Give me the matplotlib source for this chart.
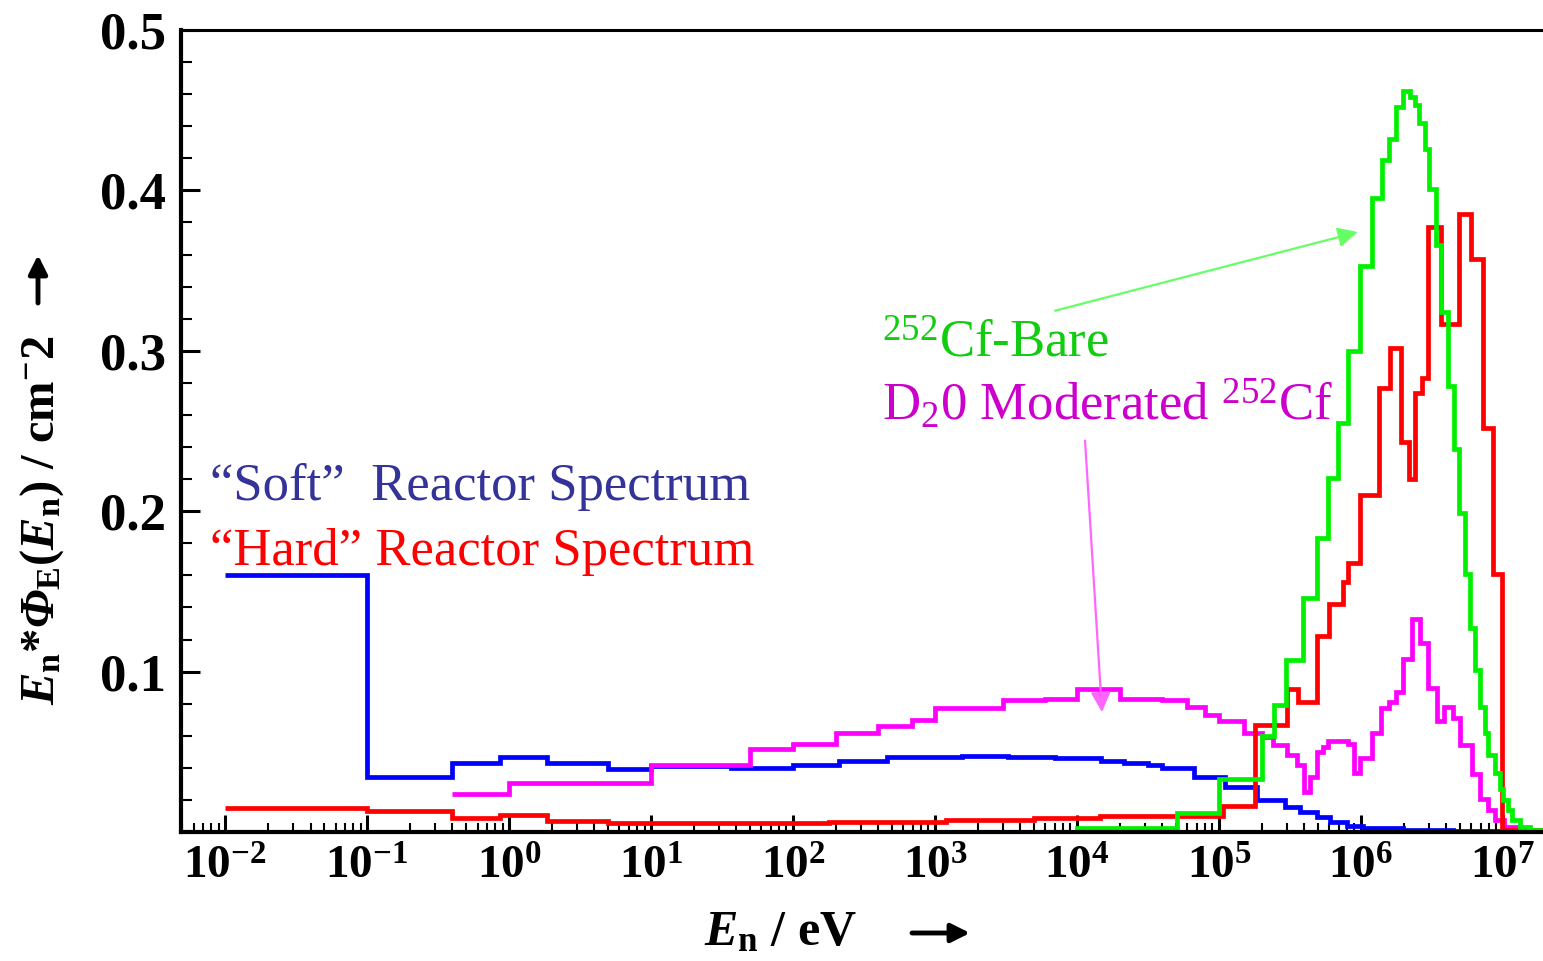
import numpy as np
import matplotlib
matplotlib.use('Agg')
import matplotlib.pyplot as plt
from matplotlib.ticker import FixedLocator, LogLocator, MultipleLocator, NullFormatter

plt.rcParams['font.family'] = ['Liberation Serif', 'DejaVu Serif']
plt.rcParams['mathtext.fontset'] = 'custom'
plt.rcParams['mathtext.rm'] = 'Liberation Serif'
plt.rcParams['mathtext.it'] = 'Liberation Serif:italic:bold'
plt.rcParams['mathtext.bf'] = 'Liberation Serif:bold'
plt.rcParams['mathtext.cal'] = 'Liberation Serif:italic:bold'  # for the italic Phi

# --- data: bin edges (eV) and E*phi(E) per bin ---
soft_edges = [1e-2, 0.1, 0.4, 0.87, 1.86, 5.0, 10, 36.5, 100, 211, 459, 1.55e3, 3.27e3,
              7.0e3, 1.48e4, 2.14e4, 3.16e4, 3.97e4, 6.67e4, 1.10e5, 1.85e5, 2.92e5,
              3.72e5, 4.90e5, 6.05e5, 7.97e5, 1.03e6, 1.98e6, 4.45e6, 9.5e6]
soft_vals = [0.160, 0.034, 0.043, 0.047, 0.043, 0.039, 0.041, 0.040, 0.042, 0.044,
             0.047, 0.0474, 0.047, 0.046, 0.044, 0.043, 0.042, 0.040, 0.034, 0.028,
             0.020, 0.0156, 0.0125, 0.0094, 0.0062, 0.0037, 0.0025, 0.0012, 0.0006]

hard_edges = [1e-2, 0.1, 0.4, 0.87, 1.86, 5.0, 180, 1.2e3, 5.0e3, 1.45e4, 1.07e5, 1.79e5,
              3.01e5, 3.60e5, 4.90e5, 5.96e5, 7.47e5, 8.10e5, 9.84e5, 1.34e6, 1.60e6,
              1.91e6, 2.18e6, 2.40e6, 2.69e6, 2.97e6, 3.66e6, 4.90e6, 5.95e6, 7.23e6,
              8.51e6, 9.85e6, 1.9e7]
hard_vals = [0.015, 0.013, 0.0087, 0.0106, 0.0069, 0.0056, 0.0062, 0.0075, 0.0087, 0.0100,
             0.016, 0.067, 0.089, 0.081, 0.122, 0.142, 0.156, 0.168, 0.210, 0.277, 0.302,
             0.243, 0.220, 0.274, 0.283, 0.377, 0.317, 0.385, 0.357, 0.252, 0.161, 0.001]

d2o_edges = [0.4, 1.0, 10, 50, 100, 200, 400, 690, 1e3, 3e3, 6e3, 1e4, 2e4, 4e4, 6e4, 8e4,
             1e5, 1.5e5, 2e5, 2.4e5, 3e5, 3.54e5, 3.97e5, 4.38e5, 4.9e5, 5.4e5, 5.86e5,
             8.1e5, 8.9e5, 9.8e5, 1.2e6, 1.38e6, 1.57e6, 1.76e6, 1.98e6, 2.29e6, 2.6e6,
             2.96e6, 3.43e6, 3.85e6, 4.45e6, 4.98e6, 6.05e6, 6.9e6, 7.84e6, 8.8e6,
             1.02e7, 1.26e7, 1.9e7]
d2o_vals = [0.024, 0.0305, 0.042, 0.052, 0.055, 0.062, 0.066, 0.070, 0.077, 0.082, 0.083,
            0.089, 0.083, 0.082, 0.078, 0.073, 0.069, 0.062, 0.059, 0.054, 0.048, 0.042,
            0.025, 0.034, 0.050, 0.053, 0.057, 0.055, 0.037, 0.046, 0.062, 0.077, 0.081,
            0.087, 0.108, 0.133, 0.118, 0.090, 0.069, 0.078, 0.071, 0.054, 0.036, 0.0205,
            0.0137, 0.0075, 0.003, 0.001]

bare_edges = [0.4, 1e4, 5.06e4, 1e5, 2.0e5, 2.44e5, 2.97e5, 3.91e5, 4.9e5, 5.86e5, 6.89e5,
              8.1e5, 9.84e5, 1.19e6, 1.41e6, 1.57e6, 1.76e6, 1.98e6, 2.21e6, 2.40e6,
              2.56e6, 2.82e6, 3.01e6, 3.38e6, 3.66e6, 4.1e6, 4.52e6, 4.9e6, 5.4e6,
              5.86e6, 6.35e6, 6.9e6, 7.47e6, 7.84e6, 8.8e6, 9.5e6, 1.0e7, 1.08e7,
              1.16e7, 1.32e7, 1.55e7, 1.91e7]
bare_vals = [0, 0.0025, 0.012, 0.033, 0.060, 0.079, 0.107, 0.146, 0.183, 0.221, 0.255,
             0.300, 0.353, 0.395, 0.419, 0.432, 0.452, 0.462, 0.458, 0.453, 0.442, 0.426,
             0.401, 0.366, 0.324, 0.278, 0.239, 0.199, 0.161, 0.127, 0.101, 0.078, 0.062,
             0.048, 0.037, 0.027, 0.020, 0.014, 0.0075, 0.003, 0.001]

xtick_vals = [1e-2, 1e-1, 1e0, 1e1, 1e2, 1e3, 1e4, 1e5, 1e6, 1e7]
xtick_labels = [r'$\mathbf{10^{-2}}$', r'$\mathbf{10^{-1}}$', r'$\mathbf{10^{0}}$',
                r'$\mathbf{10^{1}}$', r'$\mathbf{10^{2}}$', r'$\mathbf{10^{3}}$',
                r'$\mathbf{10^{4}}$', r'$\mathbf{10^{5}}$', r'$\mathbf{10^{6}}$',
                r'$\mathbf{10^{7}}$']
ytick_vals = [0.1, 0.2, 0.3, 0.4, 0.5]
ytick_labels = ['0.1', '0.2', '0.3', '0.4', '0.5']

W, H = 1543, 961
fig = plt.figure(figsize=(W / 100, H / 100), dpi=100)
ax = fig.add_axes([181 / W, 129 / H, 1 - 181 / W, (832 - 30) / H])

lw = 3.4
step_kw = dict(baseline=None, linewidth=lw, joinstyle='miter', capstyle='butt')
ax.stairs(soft_vals, soft_edges, color='#0000ff', zorder=2, **step_kw)
ax.stairs(d2o_vals, d2o_edges, color='#ff00ff', zorder=2.1, **step_kw)
ax.stairs(hard_vals, hard_edges, color='#ff0000', zorder=2.2, **step_kw)
ax.stairs(bare_vals, bare_edges, color='#00f000', zorder=2.3, **step_kw)

ax.set_xscale('log')
ax.set_xlim(10 ** -2.31, 10 ** 7.282)
ax.set_ylim(0, 0.5)

ax.xaxis.set_major_locator(FixedLocator(xtick_vals))
ax.set_xticklabels(xtick_labels, fontsize=34)
ax.xaxis.set_minor_locator(LogLocator(base=10, subs=np.arange(2, 10), numticks=30))
ax.xaxis.set_minor_formatter(NullFormatter())
ax.set_yticks(ytick_vals)
ax.set_yticklabels(ytick_labels, fontsize=38, fontweight='bold')
ax.yaxis.set_minor_locator(MultipleLocator(0.02))

ax.tick_params(axis='x', which='major', direction='in', length=12, width=2.2, pad=10)
ax.tick_params(axis='x', which='minor', direction='in', length=6.5, width=1.5)
ax.tick_params(axis='y', which='major', direction='in', length=14, width=2.2, pad=11)
ax.tick_params(axis='y', which='minor', direction='in', length=8, width=1.5)

for s in ['left', 'bottom']:
    ax.spines[s].set_linewidth(3)
ax.spines['top'].set_linewidth(2.2)
ax.spines['right'].set_visible(False)

# axis labels
fig.text(42 / W, 1 - 520 / H,
         r'$E_\mathbf{n}$*$\mathcal{\Phi}_\mathbf{E}$($E_\mathbf{n}$) / cm$^\mathbf{-}$2',
         rotation=90, ha='center', va='center', fontsize=35, fontweight='bold')
fig.text(780 / W, 1 - 945 / H, r'$E_\mathbf{n}$ / eV', ha='center', va='baseline',
         fontsize=36, fontweight='bold')
arrow_kw = dict(arrowstyle='-|>', color='black', lw=3.5, mutation_scale=28,
                shrinkA=0, shrinkB=0)
fig.add_artist(matplotlib.patches.FancyArrowPatch((912 / W, 1 - 933 / H), (970 / W, 1 - 933 / H),
               transform=fig.transFigure, **arrow_kw))
fig.add_artist(matplotlib.patches.FancyArrowPatch((38 / W, 1 - 303 / H), (38 / W, 1 - 255 / H),
               transform=fig.transFigure, **arrow_kw))

# series captions
fig.text(210 / W, 1 - 500 / H, '\u201cSoft\u201d  Reactor Spectrum', fontsize=38,
         color='#333399', va='baseline')
fig.text(210 / W, 1 - 565 / H, '\u201cHard\u201d Reactor Spectrum', fontsize=38,
         color='#ff0000', va='baseline')
fig.text(882 / W, 1 - 357 / H, r'$^{252}$Cf-Bare', fontsize=38, color='#11cc11',
         va='baseline')
fig.text(882 / W, 1 - 420 / H, r'D$_2$0 Moderated $^{252}$Cf', fontsize=38,
         color='#cc00cc', va='baseline')

ax.annotate('', xy=(9.5e5, 0.374), xytext=(7.0e3, 0.325),
            arrowprops=dict(arrowstyle='-|>', color='#66ff66', lw=1.6,
                            mutation_scale=30, shrinkA=0, shrinkB=0))
ax.annotate('', xy=(1.5e4, 0.0748), xytext=(1.14e4, 0.244),
            arrowprops=dict(arrowstyle='-|>', color='#ff66ff', lw=1.6,
                            mutation_scale=30, shrinkA=0, shrinkB=0))

fig.savefig('out.png', dpi=100)
